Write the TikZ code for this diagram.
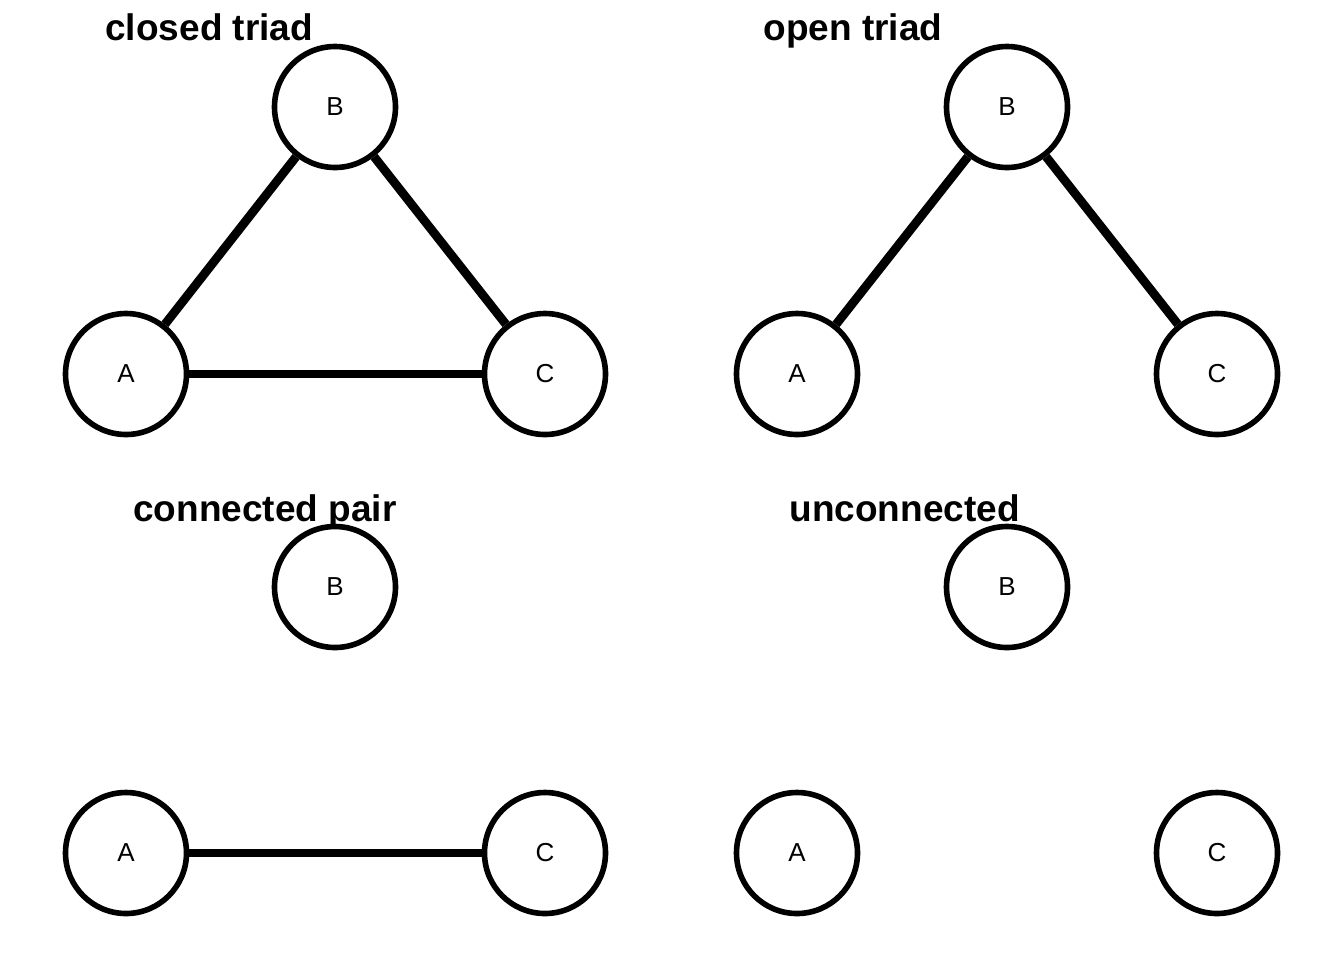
\documentclass[tikz,border=0pt]{standalone}
\usepackage{fontspec}
\setmainfont{Liberation Sans}
\begin{document}
\begin{tikzpicture}[x=0.5pt,y=-0.5pt,
  vertex/.style={circle,draw=black,line width=2.8pt,fill=white,minimum size=60.5pt,inner sep=0pt,font=\fontsize{13}{15}\selectfont},
  tie/.style={line width=4.4pt,black},
  ttl/.style={anchor=base west,inner sep=0pt,font=\fontsize{18.5}{22}\selectfont\bfseries}]
\useasboundingbox (0,0) rectangle (1344,960);
% closed triad
\node[ttl] (t1) at (105,40) {closed triad};
\node[vertex] (a1) at (126,374) {A};
\node[vertex] (b1) at (335,107) {B};
\node[vertex] (c1) at (545,374) {C};
\draw[tie] (a1) -- (b1);
\draw[tie] (b1) -- (c1);
\draw[tie] (a1) -- (c1);
% open triad
\node[ttl] (t2) at (763,40) {open triad};
\node[vertex] (a2) at (797,374) {A};
\node[vertex] (b2) at (1007,107) {B};
\node[vertex] (c2) at (1217,374) {C};
\draw[tie] (a2) -- (b2);
\draw[tie] (b2) -- (c2);
% connected pair
\node[vertex] (b3) at (335,587) {B};
\node[ttl] (t3) at (133,521) {connected pair};
\node[vertex] (a3) at (126,853) {A};
\node[vertex] (c3) at (545,853) {C};
\draw[tie] (a3) -- (c3);
% unconnected
\node[vertex] (b4) at (1007,587) {B};
\node[ttl] (t4) at (789,521) {unconnected};
\node[vertex] (a4) at (797,853) {A};
\node[vertex] (c4) at (1217,853) {C};
\end{tikzpicture}
\end{document}
